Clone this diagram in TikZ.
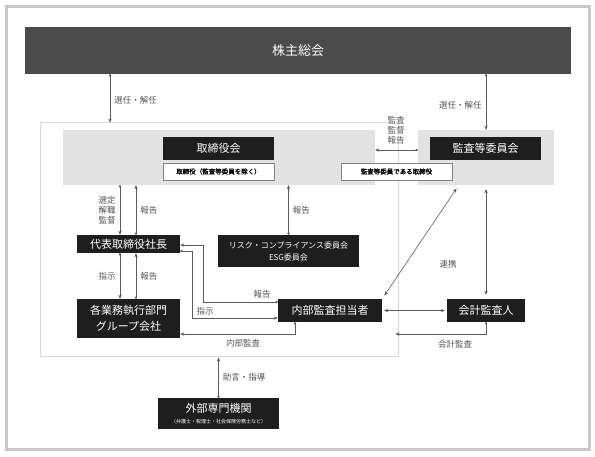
\documentclass[tikz,border=0pt]{standalone}
\usepackage{fontspec}
\newfontfamily\jp{Noto Sans CJK JP}
\newfontfamily\jpb[FakeBold=1.2]{Noto Sans CJK JP}
\usepackage{tikz}
\usetikzlibrary{calc}
\usetikzlibrary{arrows.meta}
\definecolor{dk}{HTML}{1E1E1E}
\definecolor{gmc}{HTML}{4B4B4B}
\definecolor{bg}{HTML}{E2E2E2}
\definecolor{ln}{HTML}{5C5C5C}
\definecolor{tx}{HTML}{555555}
\definecolor{frm}{HTML}{D8D8D8}
\definecolor{ofr}{HTML}{C8C8C8}

\begin{document}
\begin{tikzpicture}[x=1pt, y=-1pt,
  blk/.style={rectangle, fill=dk, text=white, inner sep=0pt, align=center, font=\jp\fontsize{11}{13}\selectfont},
  sub/.style={rectangle, draw=gray, line width=0.6pt, fill=white, inner sep=0pt, minimum width=111pt, minimum height=17pt, font=\jpb\fontsize{6.5}{8}\selectfont},
  area/.style={rectangle, fill=bg, inner sep=0pt},
  lbl/.style={text=tx, inner sep=1pt, align=center, font=\jp\fontsize{8.5}{10}\selectfont},
  con/.style={draw=ln, line width=0.6pt},
  Dot/.tip={Circle[length=2.4pt]},
  >={Stealth[length=4pt, width=3.4pt]}]
\useasboundingbox (0,0) rectangle (595,457);
\draw[ofr, line width=3pt] (6.5,6.5) rectangle (589.5,449.5);
\draw (298,50.5) node[rectangle, fill=gmc, text=white, name = gm, minimum width = 546pt, minimum height = 47pt, font=\jp\fontsize{13}{15}\selectfont]{株主総会};
\draw (219,240) node[rectangle, draw=frm, line width=1pt, name = fr, minimum width = 358pt, minimum height = 234pt]{};
\draw (219,157.5) node[area, name = bda, minimum width = 312pt, minimum height = 55pt]{};
\draw (486,157.5) node[area, name = aca, minimum width = 136pt, minimum height = 55pt]{};
\draw (218.5,148.5) node[blk, name = bd, minimum width = 111pt, minimum height = 23pt]{取締役会};
\draw (bd) + (0,23) node[sub, name = bds]{取締役（監査等委員を除く）};
\draw (485.5,148.5) node[blk, name = ac, minimum width = 111pt, minimum height = 23pt]{監査等委員会};
\draw (396.5,171.5) node[sub, name = acs]{監査等委員である取締役};
\draw (128.5,244) node[blk, name = pr, minimum width = 103pt, minimum height = 18pt]{代表取締役社長};
\draw (128.5,318.5) node[blk, name = dp, minimum width = 103pt, minimum height = 39pt, font=\jp\fontsize{11}{16}\selectfont]{各業務執行部門\\グループ会社};
\draw (288.5,251) node[blk, name = rc, minimum width = 141pt, minimum height = 32pt, font=\jp\fontsize{8}{12}\selectfont]{リスク・コンプライアンス委員会\\ESG委員会};
\draw (330,310.5) node[blk, name = ia, minimum width = 104pt, minimum height = 23pt]{内部監査担当者};
\draw (486,310.5) node[blk, name = ea, minimum width = 78pt, minimum height = 23pt]{会計監査人};
\draw (218.5,413.5) node[blk, name = ex, minimum width = 121pt, minimum height = 31pt]{外部専門機関\\[-2pt]{\fontsize{5}{6}\selectfont （弁護士・税理士・社会保険労務士など）}};
% shareholders
\draw[con, Dot->] (110,0 |- gm.south) -- node[lbl, right=3pt, pos=0.55]{選任・解任} (110,0 |- fr.north);
\draw[con, Dot->] (486,0 |- gm.south) -- node[lbl, left=3pt, pos=0.55]{選任・解任} (aca.north);
\draw[con, Dot->] (aca.west |- 0,150) -- (bda.east |- 0,150);
\draw (396,130) node[lbl, fill=white]{監査\\監督\\報告};
% president
\draw[con, Dot->] (120,0 |- bda.south) -- node[lbl, left=3pt]{選定\\解職\\監督} (120,0 |- pr.north);
\draw[con, Dot->] (136,0 |- pr.north) -- node[lbl, right=3pt]{報告} (136,0 |- bda.south);
\draw[con, Dot->] (120,0 |- pr.south) -- node[lbl, left=3pt]{指示} (120,0 |- dp.north);
\draw[con, Dot->] (136,0 |- dp.north) -- node[lbl, right=3pt]{報告} (136,0 |- pr.south);
\draw[con, Dot->] (rc.north) -- node[lbl, right=3pt]{報告} (rc.north |- bda.south);
% internal audit
\draw[con, Dot->] (ia.west |- 0,302) -| (203,245) -- (pr.east |- 0,245);
\draw (262,294) node[lbl]{報告};
\draw[con, Dot->] (pr.east |- 0,251) -| (192,318) -- (ia.west |- 0,318);
\draw (205,311) node[lbl]{指示};
\draw[con, Dot->] (295,0 |- ia.south) |- (dp.east |- 0,334);
\draw (243,343) node[lbl]{内部監査};
% audit committee, accounting auditor
\draw[con, <->, shorten <=4pt, shorten >=4pt] (ia.north east) -- ([xshift=41pt]aca.south west);
\draw[con, <->, shorten <=4pt, shorten >=4pt] (aca.south) -- (ea.north);
\draw (448,264) node[lbl]{連携};
\draw[con, <->, shorten <=2pt, shorten >=2pt] (ia.east) -- (ea.west);
\draw[con, Dot->, shorten >=-3pt] (ea.south) |- (fr.east |- 0,334);
\draw (455,344) node[lbl]{会計監査};
% outside
\draw[con, Dot->] (ex.north) -- node[lbl, right=3pt]{助言・指導} (ex.north |- fr.south);
\end{tikzpicture}
\end{document}
